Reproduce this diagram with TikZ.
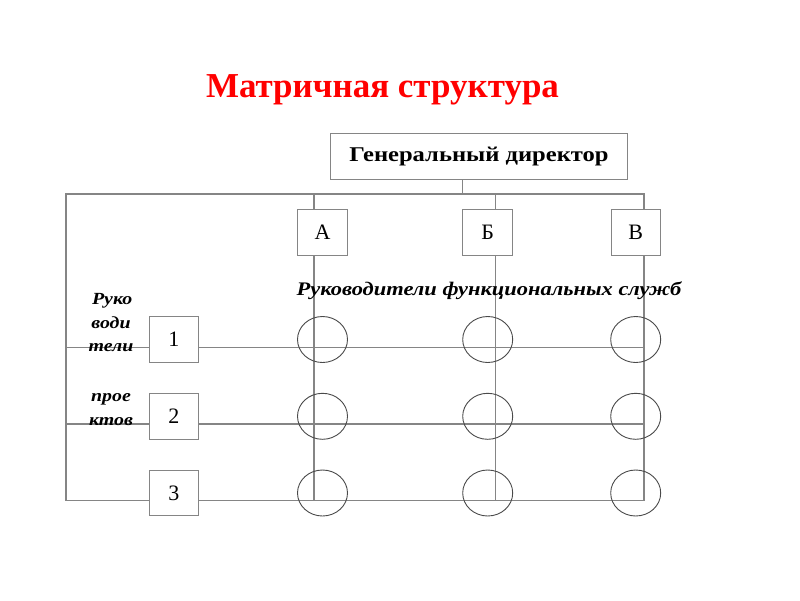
\documentclass[tikz,border=0pt]{standalone}
\usepackage{fontspec}
\setmainfont{Liberation Serif}
\newfontfamily\wideserif[FakeStretch=1.17]{Liberation Serif}
\usetikzlibrary{shapes.geometric}
\definecolor{linegray}{HTML}{858585}
\definecolor{circgray}{HTML}{4A4A4A}
\definecolor{titlered}{HTML}{FF0000}
\begin{document}
\begin{tikzpicture}[x=1pt,y=-1pt,
  conn/.style={draw=linegray, line width=1.1pt},
  sqbox/.style={draw=linegray, line width=1pt, fill=white, minimum width=49.5pt, minimum height=46.5pt, inner sep=0pt, font=\fontsize{22}{24}\selectfont},
  cell/.style={draw=circgray, line width=0.9pt, ellipse, minimum width=50pt, minimum height=46pt, inner sep=0pt},
  sidelabel/.style={font=\wideserif\fontsize{17}{19}\selectfont\bfseries\itshape, anchor=base, inner sep=0pt}]
\useasboundingbox (0,0) rectangle (800,600);

% title
\node[anchor=base, inner sep=0pt, text=titlered, font=\fontsize{35}{40}\selectfont\bfseries] (title) at (382.5,97) {Матричная структура};

% general director
\node[draw=linegray, line width=1pt, minimum width=296.6pt, minimum height=45.7pt, inner sep=0pt, font=\wideserif\fontsize{21}{24}\selectfont\bfseries] (gd) at (479,156.2) {Генеральный директор};

% coordinates of the wiring
\coordinate (stem) at (462.7,194);
\coordinate (tl) at (66,194);
\coordinate (cA) at (314,194);
\coordinate (cB) at (495.7,194);
\coordinate (cC) at (644,194);
\coordinate (bA) at (314,500.7);
\coordinate (bB) at (495.7,500.7);
\coordinate (bC) at (644,500.7);
\coordinate (l1) at (66,347.3);
\coordinate (l2) at (66,424);
\coordinate (l3) at (66,500.7);
\coordinate (e1) at (644,347.3);
\coordinate (e2) at (644,424);
\coordinate (e3) at (644,500.7);

\draw[conn] (gd.south -| stem) -- (stem);
\draw[conn] (l3) -- (tl) -- (cC) -- (bC);
\draw[conn] (cA) -- (bA);
\draw[conn] (cB) -- (bB);
\draw[conn] (l1) -- (e1);
\draw[conn] (l2) -- (e2);
\draw[conn] (l3) -- (e3);

% function boxes
\node[sqbox] (A) at (322.5,232.7) {А};
\node[sqbox] (B) at (487.7,232.7) {Б};
\node[sqbox] (C) at (635.8,232.7) {В};

% project boxes
\node[sqbox, minimum height=45.6pt] (P1) at (173.8,339.5) {1};
\node[sqbox, minimum height=45.6pt] (P2) at (173.8,416.5) {2};
\node[sqbox, minimum height=45.6pt] (P3) at (173.8,493) {3};

% cells
\foreach \c/\x in {A/322.5,B/487.7,C/635.7}{
  \node[cell] (\c1) at (\x,339.5) {};
  \node[cell] (\c2) at (\x,416.3) {};
  \node[cell] (\c3) at (\x,493) {};
}

% labels
\node[font=\wideserif\fontsize{19.2}{22}\selectfont\bfseries\itshape, anchor=base, inner sep=0pt] (func) at (489,295) {Руководители функциональных служб};
\node[sidelabel] (s1) at (112.2,304) {Руко};
\node[sidelabel] (s2) at (111,328.8) {води};
\node[sidelabel] (s3) at (111,351) {тели};
\node[sidelabel] (s4) at (111,401.7) {прое};
\node[sidelabel] (s5) at (111,425.3) {ктов};
\end{tikzpicture}
\end{document}
